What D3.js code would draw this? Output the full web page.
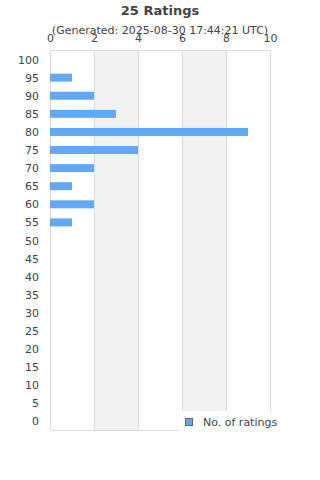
<!DOCTYPE html>
<html>
<head>
<meta charset="utf-8">
<script src="https://cdn.jsdelivr.net/npm/d3@7"></script>
<style>
  body { margin: 0; background: #fff; }
  svg { font-family: "DejaVu Sans", sans-serif; }
</style>
</head>
<body>
<svg id="chart" width="320" height="480"></svg>
<script>
// ratings buckets, top to bottom
const categories = ['100','95','90','85','80','75','70','65','60','55','50','45','40','35','30','25','20','15','10','5','0'];
const counts = [0, 1, 2, 3, 9, 4, 2, 1, 2, 1, 0, 0, 0, 0, 0, 0, 0, 0, 0, 0, 0];
const xTicks = [0, 2, 4, 6, 8, 10];
const seriesName = 'No. of ratings';

const svg = d3.select('#chart');
const plotLeft = 50.5, plotRight = 270.5, plotTop = 50.5, plotBottom = 430.5;

const x = d3.scaleLinear().domain([0, 10]).range([plotLeft, plotRight]);
const y = d3.scaleBand().domain(categories).range([plotTop, plotBottom]).paddingInner(0).paddingOuter(0);

// title
svg.append('text').attr('x', 160).attr('y', 15).attr('text-anchor', 'middle')
  .attr('font-size', 13).attr('font-weight', 'bold').attr('fill', '#444').text('25 Ratings');
svg.append('text').attr('x', 160).attr('y', 34).attr('text-anchor', 'middle')
  .attr('font-size', 11).attr('fill', '#444').text('(Generated: 2025-08-30 17:44:21 UTC)');

// alternating bands
for (let i = 0; i < xTicks.length - 1; i++) {
  if (i % 2 === 1) {
    svg.append('rect').attr('x', x(xTicks[i])).attr('y', plotTop)
      .attr('width', x(xTicks[i + 1]) - x(xTicks[i])).attr('height', plotBottom - plotTop)
      .attr('fill', '#f2f2f2');
  }
}

// grid lines
svg.append('g').selectAll('line').data(xTicks).enter().append('line')
  .attr('x1', d => x(d)).attr('x2', d => x(d)).attr('y1', plotTop).attr('y2', plotBottom)
  .attr('stroke', '#dddddd').attr('stroke-width', 1);
svg.append('line').attr('x1', plotLeft).attr('x2', plotRight).attr('y1', plotTop).attr('y2', plotTop)
  .attr('stroke', '#dddddd');
svg.append('line').attr('x1', plotLeft).attr('x2', plotRight).attr('y1', plotBottom).attr('y2', plotBottom)
  .attr('stroke', '#dddddd');

// top axis labels
svg.append('g').selectAll('text').data(xTicks).enter().append('text')
  .attr('x', d => x(d)).attr('y', 42).attr('text-anchor', 'middle')
  .attr('font-size', 11).attr('fill', '#444').text(d => d);

// category labels
svg.append('g').selectAll('text').data(categories).enter().append('text')
  .attr('x', 39).attr('y', d => y(d) + y.bandwidth() / 2 + 4).attr('text-anchor', 'end')
  .attr('font-size', 11).attr('fill', '#444').text(d => d);

// bars
const barH = 8;
svg.append('g').selectAll('rect').data(categories).enter().append('rect')
  .attr('x', x(0) - 0.5)
  .attr('y', (d, i) => y(d) + y.bandwidth() / 2 - barH / 2)
  .attr('width', (d, i) => x(counts[i]) - x(0))
  .attr('height', barH)
  .attr('fill', '#61a8f5');

// legend
const lg = svg.append('g');
lg.append('rect').attr('x', 178).attr('y', 411).attr('width', 114).attr('height', 22).attr('fill', '#fff');
lg.append('rect').attr('x', 185.5).attr('y', 418.5).attr('width', 7).attr('height', 7)
  .attr('fill', '#61a8f5').attr('stroke', '#666').attr('stroke-width', 1);
lg.append('text').attr('x', 203).attr('y', 426).attr('font-size', 11).attr('fill', '#444').text(seriesName);
</script>
</body>
</html>
